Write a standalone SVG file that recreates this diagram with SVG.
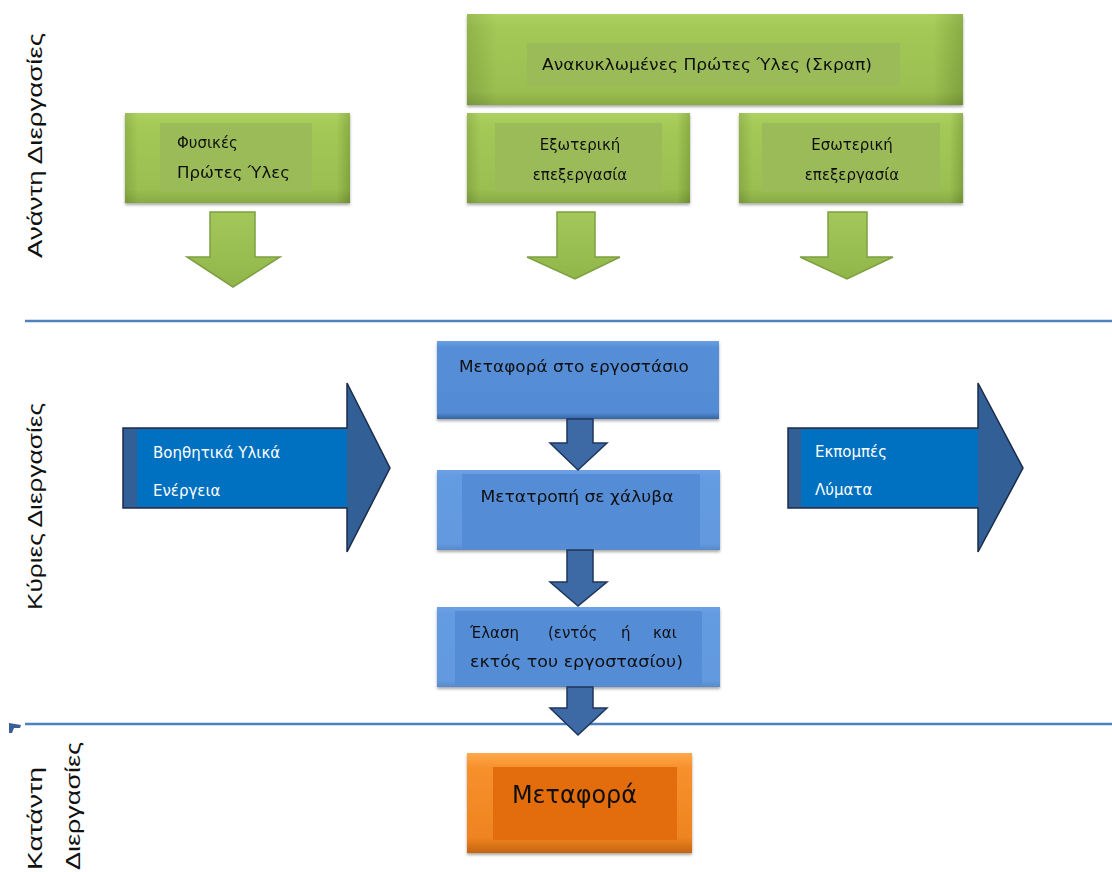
<svg xmlns="http://www.w3.org/2000/svg" width="1112" height="872" viewBox="0 0 1112 872">
  <defs>
    <linearGradient id="gGreen" x1="0" y1="0" x2="0" y2="1">
      <stop offset="0" stop-color="#b9dc6e"/>
      <stop offset="0.15" stop-color="#a6cb58"/>
      <stop offset="0.85" stop-color="#93b74c"/>
      <stop offset="1" stop-color="#6f8f33"/>
    </linearGradient>
    <linearGradient id="gGreenSide" x1="0" y1="0" x2="1" y2="0">
      <stop offset="0" stop-color="#7c9c3c"/>
      <stop offset="0.06" stop-color="#a2c655"/>
      <stop offset="0.94" stop-color="#a2c655"/>
      <stop offset="1" stop-color="#6d8c30"/>
    </linearGradient>
    <linearGradient id="gGreenArrow" x1="0" y1="0" x2="0" y2="1">
      <stop offset="0" stop-color="#a4c75a"/>
      <stop offset="1" stop-color="#90b64a"/>
    </linearGradient>
    <linearGradient id="gBlue" x1="0" y1="0" x2="0" y2="1">
      <stop offset="0" stop-color="#6a9fe2"/>
      <stop offset="0.08" stop-color="#568fd8"/>
      <stop offset="0.92" stop-color="#528bd4"/>
      <stop offset="1" stop-color="#3563a0"/>
    </linearGradient>
    <linearGradient id="gOrange" x1="0" y1="0" x2="0" y2="1">
      <stop offset="0" stop-color="#ffa94a"/>
      <stop offset="0.15" stop-color="#f6902c"/>
      <stop offset="0.85" stop-color="#ee8420"/>
      <stop offset="1" stop-color="#c56410"/>
    </linearGradient>
    <filter id="shadow" x="-5%" y="-10%" width="110%" height="125%">
      <feGaussianBlur in="SourceAlpha" stdDeviation="1.5"/>
      <feOffset dx="0" dy="2" result="b"/>
      <feComponentTransfer><feFuncA type="linear" slope="0.35"/></feComponentTransfer>
      <feMerge><feMergeNode/><feMergeNode in="SourceGraphic"/></feMerge>
    </filter>
  </defs>
  <style>
    text { font-family: "DejaVu Sans", "Liberation Sans", sans-serif; }
    .lbl { font-size: 15px; fill: #111; }
    .wlbl { font-size: 15px; fill: #ffffff; }
    .side { font-family: "Liberation Sans", "DejaVu Sans", sans-serif; font-size: 20px; fill: #111; }
    .panelG { fill: #9bbb59; }
    .gArrow { fill: url(#gGreenArrow); stroke: #7e9f42; stroke-width: 1.5; }
    .bArrow { fill: #3d69a4; stroke: #1e365c; stroke-width: 1.5; }
    .bigArrow { fill: #335f97; stroke: #1b2c48; stroke-width: 1.5; }
    .sep { stroke: #4f81bd; stroke-width: 2.5; fill: none; }
  </style>

  <rect width="1112" height="872" fill="#ffffff"/>

  <!-- stage separators -->
  <g id="separators">
    <line class="sep" x1="25" y1="321" x2="1112" y2="321"/>
    <line class="sep" x1="25" y1="724" x2="1112" y2="724"/>
    <path d="M9,723 L21,725 L20,728 L14,728 L12,733 L9,733 Z" fill="#3a5f96"/>
  </g>

  <!-- stage labels -->
  <g id="stage-labels">
    <text class="side" transform="translate(42,258) rotate(-90)" textLength="225" lengthAdjust="spacingAndGlyphs">Ανάντη Διεργασίες</text>
    <text class="side" transform="translate(42,610) rotate(-90)" textLength="207" lengthAdjust="spacingAndGlyphs">Κύριες Διεργασίες</text>
    <text class="side" transform="translate(42,870) rotate(-90)" textLength="103" lengthAdjust="spacingAndGlyphs">Κατάντη</text>
    <text class="side" transform="translate(80,870) rotate(-90)" textLength="128" lengthAdjust="spacingAndGlyphs">Διεργασίες</text>
  </g>

  <!-- upstream nodes -->
  <g id="node-scrap" filter="url(#shadow)">
    <rect x="467" y="14" width="496" height="91" fill="url(#gGreen)"/>
    <rect x="467" y="14" width="496" height="91" fill="url(#gGreenSide)" opacity="0.5"/>
    <rect class="panelG" x="527" y="43" width="373" height="43"/>
    <text class="lbl" x="707" y="70" text-anchor="middle" textLength="330" lengthAdjust="spacingAndGlyphs">Ανακυκλωμένες Πρώτες Ύλες (Σκραπ)</text>
  </g>

  <g id="node-natural" filter="url(#shadow)">
    <rect x="125" y="113" width="225" height="90" fill="url(#gGreen)"/>
    <rect x="125" y="113" width="225" height="90" fill="url(#gGreenSide)" opacity="0.5"/>
    <rect class="panelG" x="160" y="123" width="152" height="69"/>
    <text class="lbl" x="177" y="148">Φυσικές</text>
    <text class="lbl" x="177" y="178" textLength="113" lengthAdjust="spacingAndGlyphs">Πρώτες Ύλες</text>
  </g>

  <g id="node-external" filter="url(#shadow)">
    <rect x="467" y="113" width="223" height="90" fill="url(#gGreen)"/>
    <rect x="467" y="113" width="223" height="90" fill="url(#gGreenSide)" opacity="0.5"/>
    <rect class="panelG" x="495" y="123" width="167" height="69"/>
    <text class="lbl" x="580" y="150" text-anchor="middle">Εξωτερική</text>
    <text class="lbl" x="580" y="180" text-anchor="middle">επεξεργασία</text>
  </g>

  <g id="node-internal" filter="url(#shadow)">
    <rect x="739" y="113" width="224" height="90" fill="url(#gGreen)"/>
    <rect x="739" y="113" width="224" height="90" fill="url(#gGreenSide)" opacity="0.5"/>
    <rect class="panelG" x="762" y="123" width="178" height="69"/>
    <text class="lbl" x="852" y="150" text-anchor="middle">Εσωτερική</text>
    <text class="lbl" x="852" y="180" text-anchor="middle">επεξεργασία</text>
  </g>

  <!-- main process nodes -->
  <g id="node-transport-plant" filter="url(#shadow)">
    <rect x="437" y="341" width="282" height="78" fill="url(#gBlue)"/>
    <text class="lbl" x="574" y="372" text-anchor="middle" textLength="230" lengthAdjust="spacingAndGlyphs">Μεταφορά στο εργοστάσιο</text>
  </g>

  <g id="node-steelmaking" filter="url(#shadow)">
    <rect x="437" y="470" width="283" height="80" fill="#6ea4e6"/>
    <rect x="437" y="470" width="283" height="80" fill="url(#gBlue)" opacity="0.4"/>
    <rect x="462" y="474" width="238" height="74" fill="#548cd6"/>
    <text class="lbl" x="577" y="502" text-anchor="middle" textLength="193" lengthAdjust="spacingAndGlyphs">Μετατροπή σε χάλυβα</text>
  </g>

  <g id="node-rolling" filter="url(#shadow)">
    <rect x="437" y="607" width="283" height="80" fill="#6ea4e6"/>
    <rect x="437" y="607" width="283" height="80" fill="url(#gBlue)" opacity="0.4"/>
    <rect x="455" y="611" width="247" height="74" fill="#548cd6"/>
    <text class="lbl" y="638"><tspan x="470">Έλαση</tspan><tspan x="548">(εντός</tspan><tspan x="621">ή</tspan><tspan x="653">και</tspan></text>
    <text class="lbl" x="470" y="667" textLength="213" lengthAdjust="spacingAndGlyphs">εκτός του εργοστασίου)</text>
  </g>

  <g id="node-inputs">
    <path class="bigArrow" d="M123,428 H347 V383 L390,468 L347,552 V508 H123 Z"/>
    <rect x="137" y="429.5" width="210" height="77" fill="#0070c0"/>
    <text class="wlbl" x="153" y="458">Βοηθητικά Υλικά</text>
    <text class="wlbl" x="153" y="496">Ενέργεια</text>
  </g>

  <g id="node-outputs">
    <path class="bigArrow" d="M788,428 H978 V383 L1023,468 L978,552 V508 H788 Z"/>
    <rect x="801" y="429.5" width="177" height="77" fill="#0070c0"/>
    <text class="wlbl" x="815" y="457">Εκπομπές</text>
    <text class="wlbl" x="815" y="495">Λύματα</text>
  </g>

  <!-- downstream node -->
  <g id="node-transport" filter="url(#shadow)">
    <rect x="467" y="753" width="225" height="100" fill="url(#gOrange)"/>
    <rect x="493" y="767" width="184" height="73" fill="#e36c09"/>
    <text x="512" y="803" font-size="24" fill="#111" textLength="125" lengthAdjust="spacingAndGlyphs">Μεταφορά</text>
  </g>

  <!-- flow arrows -->
  <g id="connectors">
    <path class="gArrow" d="M210,212 H255 V257 H280 L233,287 L187,257 H210 Z"/>
    <path class="gArrow" d="M557,212 H595 V257 H620 L575,279 L527,257 H557 Z"/>
    <path class="gArrow" d="M828,212 H867 V257 H893 L847,279 L800,257 H828 Z"/>
    <path class="bArrow" d="M567,419 H593 V443 H607 L578,470 L550,443 H567 Z"/>
    <path class="bArrow" d="M567,550 H593 V582 H607 L578,606 L550,582 H567 Z"/>
    <path class="bArrow" d="M567,687 H593 V708 H607 L578,735 L550,708 H567 Z"/>
  </g>
</svg>
